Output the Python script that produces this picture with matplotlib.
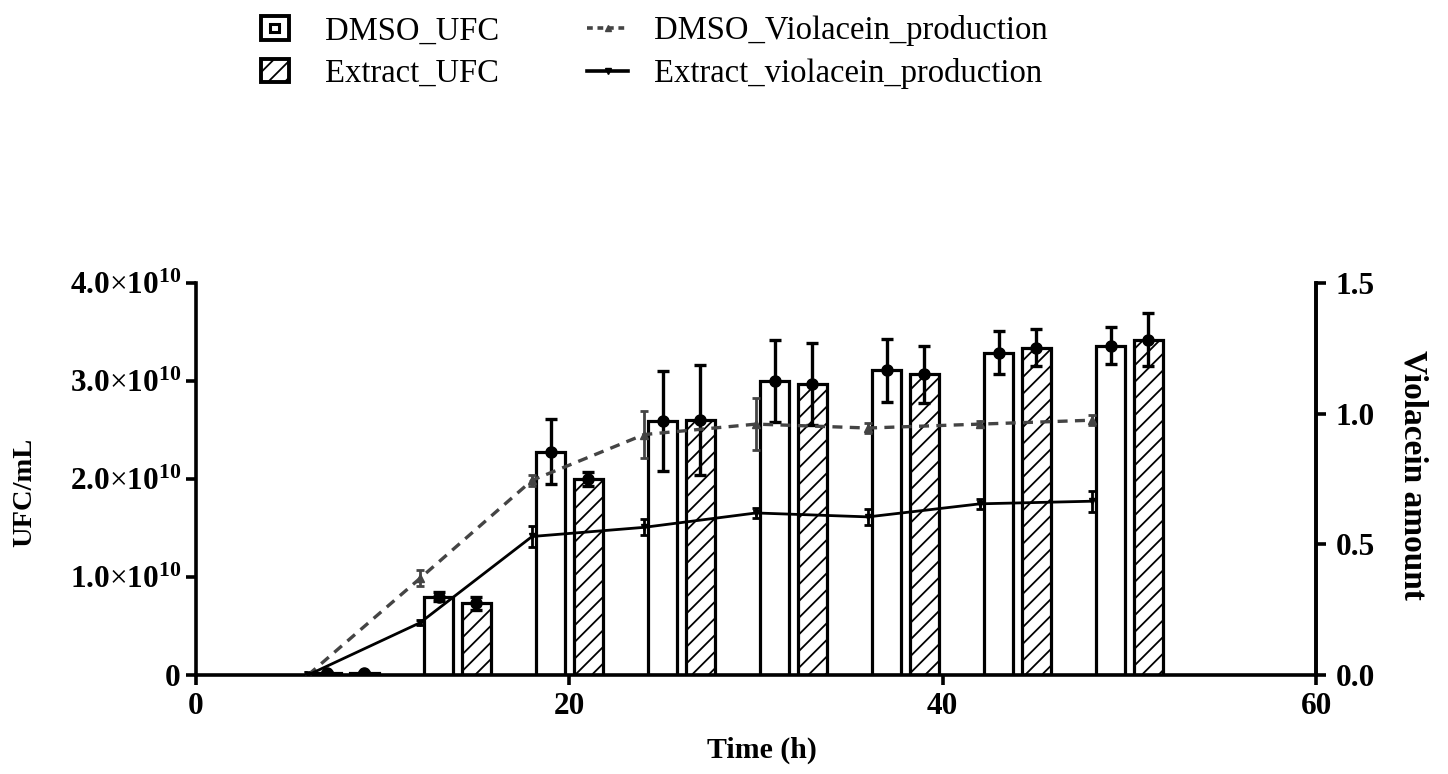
import matplotlib
matplotlib.use("Agg")
import matplotlib.pyplot as plt
from matplotlib.patches import Rectangle
from matplotlib.legend_handler import HandlerPatch
from matplotlib.lines import Line2D
from matplotlib.ticker import FuncFormatter

plt.rcParams['font.family'] = ['Liberation Serif', 'DejaVu Serif']
plt.rcParams['mathtext.fontset'] = 'custom'
plt.rcParams['mathtext.rm'] = 'Liberation Serif'
plt.rcParams['mathtext.bf'] = 'Liberation Serif:bold'
plt.rcParams['mathtext.it'] = 'Liberation Serif:italic'
plt.rcParams['hatch.linewidth'] = 1.3

# ---- data ----
times = [6, 12, 18, 24, 30, 36, 42, 48]
dmso_ufc = [0.02, 0.80, 2.28, 2.59, 3.00, 3.11, 3.29, 3.36]          # x1e10
dmso_ufc_err = [0.01, 0.05, 0.33, 0.51, 0.42, 0.32, 0.22, 0.19]
extract_ufc = [0.02, 0.73, 2.00, 2.60, 2.97, 3.07, 3.34, 3.42]       # x1e10
extract_ufc_err = [0.01, 0.07, 0.07, 0.56, 0.42, 0.29, 0.19, 0.27]
dmso_vio = [0.0, 0.37, 0.745, 0.92, 0.96, 0.945, 0.96, 0.975]
dmso_vio_err = [0.01, 0.03, 0.02, 0.09, 0.10, 0.02, 0.01, 0.02]
ext_vio = [0.0, 0.20, 0.53, 0.565, 0.62, 0.605, 0.655, 0.665]
ext_vio_err = [0.01, 0.01, 0.04, 0.03, 0.02, 0.03, 0.02, 0.04]

x_ticks = [0, 20, 40, 60]
y_left_ticks = [0, 1e10, 2e10, 3e10, 4e10]
y_right_ticks = [0.0, 0.5, 1.0, 1.5]
legend_labels = ['DMSO_UFC', 'Extract_UFC', 'DMSO_Violacein_production',
                 'Extract_violacein_production']

SCALE = 1e10
bar_w = 1.55
dmso_x = [t + 1 for t in times]
ext_x = [t + 3 for t in times]

fig = plt.figure(figsize=(14.48, 7.74), dpi=100)
ax = fig.add_axes([0.1354, 0.1279, 0.7735, 0.5065])
ax2 = ax.twinx()

lw = 2.3
ax.bar(dmso_x, [v * SCALE for v in dmso_ufc], width=bar_w, facecolor='white',
       edgecolor='black', linewidth=lw, zorder=2)
ax.bar(ext_x, [v * SCALE for v in extract_ufc], width=bar_w, facecolor='white',
       edgecolor='black', linewidth=lw, hatch='//', zorder=2)
ax.errorbar(dmso_x, [v * SCALE for v in dmso_ufc], yerr=[e * SCALE for e in dmso_ufc_err],
            fmt='o', color='black', ms=8, elinewidth=2.4, capsize=4, capthick=2.4, zorder=3)
ax.errorbar(ext_x, [v * SCALE for v in extract_ufc], yerr=[e * SCALE for e in extract_ufc_err],
            fmt='o', color='black', ms=8, elinewidth=2.4, capsize=4, capthick=2.4, zorder=3)

gray = '#444444'
ax2.errorbar(times, dmso_vio, yerr=dmso_vio_err, color=gray, linestyle=(0, (3, 2.2)),
             linewidth=2.4, marker='^', ms=6, elinewidth=2, capsize=3, capthick=2)
ax2.errorbar(times, ext_vio, yerr=ext_vio_err, color='black', linestyle='-',
             linewidth=2.0, marker='v', ms=5, elinewidth=2, capsize=3, capthick=2)

ax.set_xlim(0, 60)
ax.set_ylim(0, 4e10)
ax2.set_ylim(0, 1.5)
ax.set_xticks(x_ticks)
ax.set_yticks(y_left_ticks)
ax2.set_yticks(y_right_ticks)


def left_fmt(v, pos):
    if v == 0:
        return r'$\mathbf{0}$'
    m = v / 1e10
    return r'$\mathbf{%.1f}{\times}\mathbf{10}^{\mathbf{10}}$' % m


ax.yaxis.set_major_formatter(FuncFormatter(left_fmt))
ax2.yaxis.set_major_formatter(FuncFormatter(lambda v, p: '%.1f' % v))

for a in (ax, ax2):
    a.spines['top'].set_visible(False)
    for s in ('left', 'right', 'bottom'):
        a.spines[s].set_linewidth(2.6)
ax2.spines['left'].set_visible(False)
ax2.spines['bottom'].set_visible(False)

ax.tick_params(axis='both', direction='out', width=2.6, length=7, labelsize=22.5, pad=4)
ax.tick_params(axis='x', pad=5)
ax2.tick_params(axis='y', direction='out', width=2.6, length=7, labelsize=22.5, pad=7)
for lab in ax.get_xticklabels() + ax2.get_yticklabels():
    lab.set_fontweight('bold')

ax.set_xlabel('Time (h)', fontsize=21.5, fontweight='bold')
ax.set_ylabel('UFC/mL', fontsize=20.5, fontweight='bold')
ax2.set_ylabel('Violacein amount', fontsize=24, fontweight='bold', rotation=270)
ax.xaxis.set_label_coords(0.505, -0.158)
ax.yaxis.set_label_coords(-0.142, 0.467)
ax2.yaxis.set_label_coords(1.10, 0.51)


class SquareHandler(HandlerPatch):
    def create_artists(self, legend, orig_handle, xdescent, ydescent, width, height,
                       fontsize, trans):
        sw = fontsize * 0.85
        sh = fontsize * 0.72
        x0 = -xdescent + fontsize * 0.08
        y0 = -ydescent + (height - sh) / 2
        arts = [Rectangle((x0, y0), sw, sh, facecolor='white', edgecolor='black',
                          linewidth=2.8, hatch=orig_handle.get_hatch(), transform=trans)]
        if not orig_handle.get_hatch():
            iw = sw * 0.32
            ih = sh * 0.32
            arts.append(Rectangle((x0 + (sw - iw) / 2, y0 + (sh - ih) / 2), iw, ih,
                                  facecolor='white', edgecolor='black', linewidth=2.2,
                                  transform=trans))
        return arts


h1 = Rectangle((0, 0), 1, 1, facecolor='white', edgecolor='black')
h2 = Rectangle((0, 0), 1, 1, facecolor='white', edgecolor='black', hatch='//')
h3 = Line2D([], [], color=gray, linestyle=(0, (1.6, 1.3)), linewidth=2.6, marker='^', ms=5)
h4 = Line2D([], [], color='black', linestyle='-', linewidth=2.6, marker='v', ms=4)

fig.legend([h1, h2, h3, h4], legend_labels,
           loc='upper left', bbox_to_anchor=(0.158, 1.018), ncol=2, frameon=False,
           fontsize=23.5, handlelength=1.25, handletextpad=0.8, columnspacing=2.7,
           labelspacing=0.36,
           handler_map={Rectangle: SquareHandler()})

fig.savefig('out.png', dpi=100)
